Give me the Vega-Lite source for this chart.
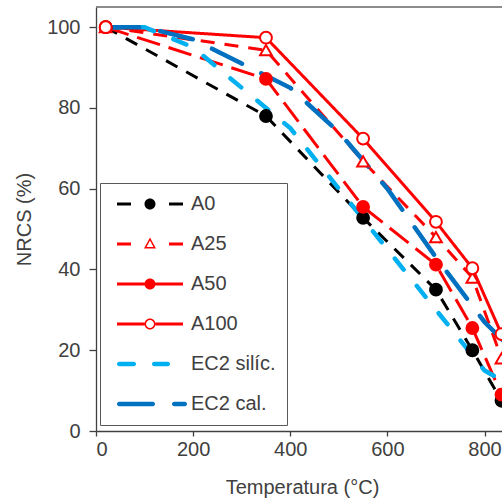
{
  "$schema": "https://vega.github.io/schema/vega-lite/v6.json",
  "width": 406,
  "height": 424,
  "autosize": {"type": "none"},
  "padding": {"left": 96, "top": 7, "right": 0, "bottom": 67},
  "background": "#ffffff",
  "config": {
    "view": {"stroke": null},
    "font": "Liberation Sans",
    "axis": {
      "labelFont": "Liberation Sans", "labelFontSize": 20, "labelColor": "#404040",
      "titleFont": "Liberation Sans", "titleFontSize": 20, "titleFontWeight": "normal", "titleColor": "#404040",
      "domainColor": "#404040", "tickColor": "#404040", "domainWidth": 1.3, "tickWidth": 1.3, "grid": false
    }
  },
  "datasets": {
    "exp": [
      {"series": "A0", "T": 20, "v": 100}, {"series": "A0", "T": 350, "v": 78}, {"series": "A0", "T": 550, "v": 52.8}, {"series": "A0", "T": 700, "v": 35}, {"series": "A0", "T": 775, "v": 20}, {"series": "A0", "T": 835, "v": 7.5},
      {"series": "A25", "T": 20, "v": 100}, {"series": "A25", "T": 350, "v": 94.3}, {"series": "A25", "T": 550, "v": 66.8}, {"series": "A25", "T": 700, "v": 48}, {"series": "A25", "T": 775, "v": 38}, {"series": "A25", "T": 835, "v": 18},
      {"series": "A50", "T": 20, "v": 100}, {"series": "A50", "T": 350, "v": 87.2}, {"series": "A50", "T": 550, "v": 55.5}, {"series": "A50", "T": 700, "v": 41.2}, {"series": "A50", "T": 775, "v": 25.5}, {"series": "A50", "T": 835, "v": 9},
      {"series": "A100", "T": 20, "v": 100}, {"series": "A100", "T": 350, "v": 97.4}, {"series": "A100", "T": 550, "v": 72.4}, {"series": "A100", "T": 700, "v": 51.8}, {"series": "A100", "T": 775, "v": 40.3}, {"series": "A100", "T": 835, "v": 24}
    ],
    "ec2": [
      {"series": "EC2 silíc.", "T": 20, "v": 100}, {"series": "EC2 silíc.", "T": 100, "v": 100}, {"series": "EC2 silíc.", "T": 200, "v": 95}, {"series": "EC2 silíc.", "T": 300, "v": 85}, {"series": "EC2 silíc.", "T": 400, "v": 75}, {"series": "EC2 silíc.", "T": 500, "v": 60}, {"series": "EC2 silíc.", "T": 600, "v": 45}, {"series": "EC2 silíc.", "T": 700, "v": 30}, {"series": "EC2 silíc.", "T": 800, "v": 15}, {"series": "EC2 silíc.", "T": 900, "v": 8}, {"series": "EC2 silíc.", "T": 1000, "v": 4},
      {"series": "EC2 cal.", "T": 20, "v": 100}, {"series": "EC2 cal.", "T": 100, "v": 100}, {"series": "EC2 cal.", "T": 200, "v": 97}, {"series": "EC2 cal.", "T": 300, "v": 91}, {"series": "EC2 cal.", "T": 400, "v": 85}, {"series": "EC2 cal.", "T": 500, "v": 74}, {"series": "EC2 cal.", "T": 600, "v": 60}, {"series": "EC2 cal.", "T": 700, "v": 43}, {"series": "EC2 cal.", "T": 800, "v": 27}, {"series": "EC2 cal.", "T": 900, "v": 15}, {"series": "EC2 cal.", "T": 1000, "v": 6}
    ]
  },
  "layer": [
    {
      "data": {"values": [{}]},
      "mark": {"type": "rule", "color": "#666666", "strokeWidth": 1.3},
      "encoding": {"y": {"datum": 105, "type": "quantitative", "scale": {"domain": [0, 105], "nice": false}}}
    },
    {
      "data": {"name": "exp"},
      "mark": {"type": "line", "strokeWidth": 3, "clip": true},
      "encoding": {
        "x": {"field": "T", "type": "quantitative", "scale": {"domain": [0, 836], "nice": false},
          "axis": {"values": [0, 200, 400, 600, 800], "tickSize": 5, "labelPadding": 3, "title": "Temperatura (°C)", "titlePadding": 18, "titleX": 206}},
        "y": {"field": "v", "type": "quantitative", "scale": {"domain": [0, 105], "nice": false},
          "axis": {"values": [0, 20, 40, 60, 80, 100], "tickSize": 7, "labelPadding": 9, "title": "NRCS (%)", "titlePadding": 12}},
        "stroke": {"field": "series", "type": "nominal", "legend": null,
          "scale": {"domain": ["A0", "A25", "A50", "A100"], "range": ["#000000", "#ff0000", "#ff0000", "#ff0000"]}},
        "strokeDash": {"field": "series", "type": "nominal", "legend": null,
          "scale": {"domain": ["EC2 silíc.", "EC2 cal.", "A0", "A25", "A50", "A100"], "range": [[14, 21], [33.5, 21.5], [13, 10], [14, 10], [24, 9], [1, 0]]}}
      }
    },
    {
      "data": {"name": "ec2"},
      "mark": {"type": "line", "strokeWidth": 4.5, "strokeCap": "round", "clip": true},
      "encoding": {
        "x": {"field": "T", "type": "quantitative", "scale": {"domain": [0, 836], "nice": false}},
        "y": {"field": "v", "type": "quantitative", "scale": {"domain": [0, 105], "nice": false}},
        "color": {"field": "series", "type": "nominal",
          "scale": {"domain": ["A0", "A25", "A50", "A100", "EC2 silíc.", "EC2 cal."], "range": ["#000000", "#ff0000", "#ff0000", "#ff0000", "#00b0f0", "#0070c0"]},
          "legend": {
            "title": null, "orient": "none", "legendX": 4, "legendY": 176,
            "padding": 11, "fillColor": "#ffffff", "strokeColor": "#595959",
            "labelFont": "Liberation Sans", "labelFontSize": 20, "labelColor": "#404040",
            "labelOffset": 60, "rowPadding": 20, "symbolSize": 4, "symbolStrokeWidth": 0,
            "encode": {
              "symbols": {
                "update": {
                  "shape": {"signal": "datum.value === 'A0' ? 'M-4,-1.5H10V1.5H-4Z M34.5,0A5.5,5.5 0 1,1 23.5,0A5.5,5.5 0 1,1 34.5,0Z M48,-1.5H62V1.5H48Z' : datum.value === 'A25' ? 'M-4,-1.5H10V1.5H-4Z M48,-1.5H62V1.5H48Z M29,-6.5L35,4.5L23,4.5Z M29,-3.4L25.5,3L32.5,3Z' : datum.value === 'A50' ? 'M-4,-1.5H62V1.5H-4Z M34.5,0A5.5,5.5 0 1,1 23.5,0A5.5,5.5 0 1,1 34.5,0Z' : datum.value === 'A100' ? 'M-4,-1.5H23.5V1.5H-4Z M34.5,-1.5H62V1.5H34.5Z M34.5,0A5.5,5.5 0 1,1 23.5,0A5.5,5.5 0 1,1 34.5,0Z M33,0A4,4 0 1,0 25,0A4,4 0 1,0 33,0Z' : datum.value === 'EC2 silíc.' ? 'M-1.75,-2.25H12.75A2.25,2.25 0 0,1 12.75,2.25H-1.75A2.25,2.25 0 0,1 -1.75,-2.25Z M33.25,-2.25H46.75A2.25,2.25 0 0,1 46.75,2.25H33.25A2.25,2.25 0 0,1 33.25,-2.25Z' : 'M-1.75,-2.25H31.75A2.25,2.25 0 0,1 31.75,2.25H-1.75A2.25,2.25 0 0,1 -1.75,-2.25Z M53.25,-2.25H63.75A2.25,2.25 0 0,1 63.75,2.25H53.25A2.25,2.25 0 0,1 53.25,-2.25Z'"},
                  "fill": {"signal": "datum.value === 'A0' ? '#000000' : indexof(['A25','A50','A100'], datum.value) >= 0 ? '#ff0000' : datum.value === 'EC2 silíc.' ? '#00b0f0' : '#0070c0'"},
                  "stroke": {"value": "transparent"},
                  "strokeWidth": {"value": 0},
                  "opacity": {"value": 1},
                  "size": {"value": 4}
                }
              }
            }
          }},
        "strokeDash": {"field": "series", "type": "nominal", "legend": null,
          "scale": {"domain": ["EC2 silíc.", "EC2 cal.", "A0", "A25", "A50", "A100"], "range": [[14, 21], [33.5, 21.5], [13, 10], [14, 10], [24, 9], [1, 0]]}}
      }
    },
    {
      "data": {"name": "exp"},
      "mark": {"type": "point", "size": 140, "strokeWidth": 2, "opacity": 1, "clip": true},
      "encoding": {
        "x": {"field": "T", "type": "quantitative", "scale": {"domain": [0, 836], "nice": false}},
        "y": {"field": "v", "type": "quantitative", "scale": {"domain": [0, 105], "nice": false}},
        "shape": {"field": "series", "type": "nominal", "legend": null,
          "scale": {"domain": ["A0", "A25", "A50", "A100"], "range": ["circle", "triangle-up", "circle", "circle"]}},
        "fill": {"field": "series", "type": "nominal", "legend": null,
          "scale": {"domain": ["A0", "A25", "A50", "A100"], "range": ["#000000", "#ffffff", "#ff0000", "#ffffff"]}},
        "stroke": {"field": "series", "type": "nominal", "legend": null,
          "scale": {"domain": ["A0", "A25", "A50", "A100"], "range": ["#000000", "#ff0000", "#ff0000", "#ff0000"]}}
      }
    }
  ]
}
